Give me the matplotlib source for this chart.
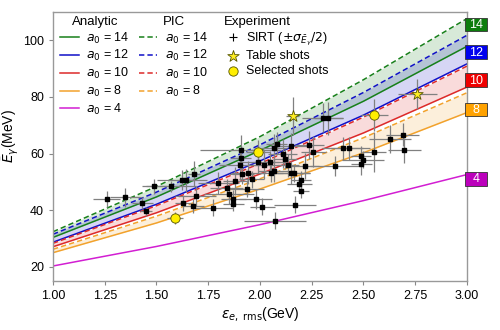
import matplotlib.pyplot as plt
from matplotlib.lines import Line2D
from matplotlib.patches import Rectangle

plt.rcParams['font.family'] = ['Liberation Sans', 'DejaVu Sans']
plt.rcParams['mathtext.fontset'] = 'dejavusans'

# model curves at these energies
eps_grid = [1.0, 1.5, 2.0, 2.5, 3.0]
analytic = {
    14: [30.4, 44.7, 61.1, 78.5, 97.9],
    12: [28.7, 42.1, 57.4, 73.6, 91.7],
    10: [27.1, 39.1, 52.8, 67.3, 83.5],
    8: [25.0, 35.5, 47.5, 60.3, 74.5],
    4: [20.3, 27.2, 34.9, 43.4, 52.6],
}
pic = {
    14: [32.4, 48.4, 66.0, 86.1, 107.7],
    12: [31.5, 46.4, 63.1, 81.6, 101.8],
    10: [28.3, 41.6, 56.5, 72.9, 90.9],
    8: [26.2, 37.9, 51.1, 65.6, 81.5],
}
colors = {14: '#17801a', 12: '#1010c8', 10: '#dd2a2a', 8: '#f2a22c', 4: '#d21ed2'}
box_colors = {14: '#0c7d0c', 12: '#0000ee', 10: '#ee0000', 8: '#ffa200', 4: '#bb00bb'}
box_y = {14: 105.6, 12: 95.8, 10: 86.0, 8: 75.6, 4: 51.1}

# SIRT shots
sirt_eps = [1.259, 1.348, 1.431, 1.449, 1.489, 1.569, 1.622, 1.641, 1.681, 1.629,
            1.689, 1.678, 1.771, 1.799, 1.839, 1.850, 1.871, 1.871, 1.881, 1.903,
            1.907, 1.908, 1.912, 1.937, 1.942, 1.960, 1.979, 1.990, 2.012, 2.021,
            2.048, 2.051, 2.069, 2.072, 2.069, 2.081, 2.109, 2.121, 2.137, 2.150,
            2.152, 2.163, 2.169, 2.190, 2.198, 2.198, 2.217, 2.239, 2.258, 2.303,
            2.330, 2.362, 2.400, 2.430, 2.488, 2.498, 2.490, 2.551, 2.628, 2.689,
            2.698]
sirt_E = [44.1, 44.5, 42.5, 39.6, 48.4, 48.4, 50.8, 50.5, 52.9, 42.4,
          45.0, 41.4, 40.9, 49.6, 48.0, 45.6, 44.1, 42.1, 50.3, 55.8,
          61.1, 58.6, 52.9, 47.6, 53.3, 50.9, 44.1, 57.2, 41.3, 56.1,
          57.0, 53.3, 54.0, 36.3, 62.0, 63.5, 60.0, 58.1, 55.8, 62.6,
          53.3, 53.1, 42.0, 49.1, 50.5, 46.8, 55.6, 63.0, 60.7, 72.7,
          72.4, 55.6, 61.9, 61.9, 59.3, 57.8, 56.4, 60.5, 65.2, 66.7,
          61.1]
sirt_xerr = [0.065, 0.075, 0.05, 0.03, 0.06, 0.12, 0.12, 0.04, 0.03, 0.04,
             0.1, 0.05, 0.1, 0.1, 0.08, 0.12, 0.06, 0.05, 0.06, 0.1,
             0.195, 0.05, 0.06, 0.08, 0.08, 0.06, 0.08, 0.1, 0.06, 0.07,
             0.08, 0.06, 0.08, 0.15, 0.06, 0.05, 0.07, 0.06, 0.05, 0.1,
             0.09, 0.08, 0.1, 0.06, 0.05, 0.04, 0.07, 0.07, 0.06, 0.1,
             0.07, 0.12, 0.1, 0.1, 0.05, 0.1, 0.05, 0.06, 0.1, 0.08,
             0.08]
sirt_yerr = [2.8, 3.2, 2.2, 1.5, 2.5, 2.0, 3.5, 4.0, 4.5, 2.5,
             3.5, 2.5, 3.0, 4.0, 3.0, 3.5, 3.0, 2.5, 5.0, 5.0,
             5.5, 4.0, 3.5, 3.0, 4.0, 3.0, 3.5, 4.0, 3.0, 5.0,
             4.0, 3.5, 4.0, 3.0, 5.0, 4.0, 5.0, 3.5, 4.0, 4.5,
             4.0, 3.0, 3.0, 3.0, 3.5, 2.5, 4.5, 5.0, 5.5, 5.0,
             6.0, 3.5, 4.0, 4.0, 3.5, 3.0, 4.0, 7.0, 5.0, 4.0,
             4.5]

table_eps = [2.158, 2.760]
table_E = [73.2, 80.9]
table_xerr = [0.03, 0.095]
table_yerr = [6.7, 5.3]

sel_eps = [1.589, 1.990, 2.551]
sel_E = [37.2, 60.7, 73.7]
sel_xerr = [0.04, 0.06, 0.065]
sel_yerr = [2.0, 4.0, 5.6]

fig = plt.figure(figsize=(5, 3.3), dpi=100)
ax = fig.add_axes([0.106, 0.1485, 0.828, 0.815])

for a0 in [14, 12, 10, 8]:
    ax.fill_between(eps_grid, analytic[a0], pic[a0], color=colors[a0], alpha=0.17, lw=0)

an_handles = []
for a0 in [14, 12, 10, 8, 4]:
    h, = ax.plot(eps_grid, analytic[a0], color=colors[a0], lw=1.1, label=r'$a_0$ = %d' % a0)
    an_handles.append(h)
pic_handles = []
for a0 in [14, 12, 10, 8]:
    h, = ax.plot(eps_grid, pic[a0], color=colors[a0], lw=1.1, ls=(0, (3.5, 2)),
                 label=r'$a_0$ = %d' % a0)
    pic_handles.append(h)

eb = ax.errorbar(sirt_eps, sirt_E, xerr=sirt_xerr, yerr=sirt_yerr, fmt='s', ms=2.2,
                 mfc='black', mec='black', ecolor='#808080', elinewidth=0.9, capsize=0, zorder=4)
ax.errorbar(table_eps, table_E, xerr=table_xerr, yerr=table_yerr, fmt='none',
            ecolor='#808080', elinewidth=0.9, zorder=4)
ax.errorbar(sel_eps, sel_E, xerr=sel_xerr, yerr=sel_yerr, fmt='none',
            ecolor='#808080', elinewidth=0.9, zorder=4)
star = ax.scatter(table_eps, table_E, marker='*', s=75, c='#ffee22', edgecolors='#555500',
                  linewidths=0.6, zorder=5)
circ = ax.scatter(sel_eps, sel_E, marker='o', s=45, c='#ffee00', edgecolors='#555500',
                  linewidths=0.6, zorder=5)

# a0 tags on the right edge
tag_tr = ax.get_yaxis_transform()
for a0 in [14, 12, 10, 8, 4]:
    ax.add_patch(Rectangle((0.995, box_y[a0] - 2.4), 0.053, 4.8, transform=tag_tr,
                           fc=box_colors[a0], ec='#333333', lw=0.6, clip_on=False, zorder=6))
    ax.text(1.0215, box_y[a0] - 0.2, str(a0), transform=tag_tr, ha='center', va='center',
            color='white', fontsize=9, clip_on=False, zorder=7)

ax.set_xlim(1.0, 3.0)
ax.set_ylim(15, 110)
ax.set_xticks([1.0, 1.25, 1.5, 1.75, 2.0, 2.25, 2.5, 2.75, 3.0])
ax.set_yticks([20, 40, 60, 80, 100])
ax.xaxis.set_major_formatter(plt.FormatStrFormatter('%.2f'))
ax.tick_params(labelsize=9, color='#888888', length=3)
for s in ax.spines.values():
    s.set_color('#999999')
    s.set_linewidth(1.0)

ax.set_xlabel(r'$\varepsilon_{e,\ \mathrm{rms}}$(GeV)', fontsize=10, labelpad=2)
ax.set_ylabel(r'$\bar{E}_\gamma$(MeV)', fontsize=10)
ax.yaxis.set_label_coords(-0.078, 0.54)

leg_kw = dict(frameon=False, fontsize=9, title_fontsize=9.5, loc='upper left',
              handlelength=1.5, handletextpad=0.6, labelspacing=0.22, borderaxespad=0)
l1 = ax.legend(handles=an_handles, title='Analytic', bbox_to_anchor=(0.005, 1.005), **leg_kw)
ax.add_artist(l1)
l2 = ax.legend(handles=pic_handles, title='PIC', bbox_to_anchor=(0.195, 1.005), **leg_kw)
ax.add_artist(l2)
sirt_h = Line2D([], [], marker='+', color='black', ls='none', ms=6, mew=0.8)
l3 = ax.legend(handles=[sirt_h, star, circ],
               labels=[r'SIRT ($\pm\sigma_{\bar{E}_\gamma}/2$)', 'Table shots', 'Selected shots'],
               title='Experiment', bbox_to_anchor=(0.40, 1.005), handletextpad=0.3,
               **{k: v for k, v in leg_kw.items() if k != 'handletextpad'})
l3._legend_box.align = 'left'

fig.savefig('out.png', dpi=100)
